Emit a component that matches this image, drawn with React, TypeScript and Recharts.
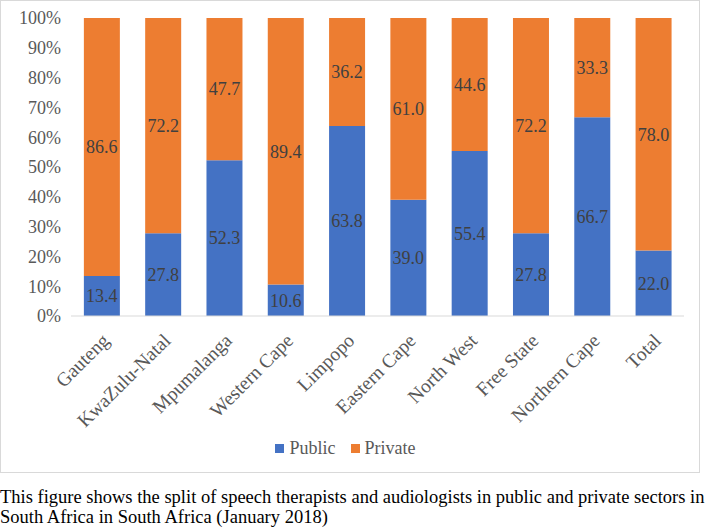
import { BarChart, Bar, XAxis, YAxis, Legend, LabelList } from "recharts";

const REGIONS = [
  "Gauteng", "KwaZulu-Natal", "Mpumalanga", "Western Cape", "Limpopo",
  "Eastern Cape", "North West", "Free State", "Northern Cape", "Total",
];
const PUBLIC = [13.4, 27.8, 52.3, 10.6, 63.8, 39.0, 55.4, 27.8, 66.7, 22.0];
const PRIVATE = [86.6, 72.2, 47.7, 89.4, 36.2, 61.0, 44.6, 72.2, 33.3, 78.0];
const Y_TICKS = [0, 10, 20, 30, 40, 50, 60, 70, 80, 90, 100];

const FONT = '"Liberation Serif", "Times New Roman", serif';
const BLUE = "#4472C4";
const ORANGE = "#ED7D31";
const LEGEND = [
  { label: "Public", color: BLUE },
  { label: "Private", color: ORANGE },
];

const chartData = REGIONS.map((name, i) => ({
  name,
  public: PUBLIC[i],
  private: PRIVATE[i],
}));

function RotatedTick({ x, y, payload }: any) {
  return (
    <g transform={`translate(${x + 4},${y + 13})`}>
      <text
        x={0}
        y={0}
        dy="0.35em"
        textAnchor="end"
        transform="rotate(-45)"
        fill="#595959"
        fontSize={19.5}
        fontFamily={FONT}
      >
        {payload.value}
      </text>
    </g>
  );
}

function PercentTick({ x, y, payload }: any) {
  return (
    <text
      x={x - 2}
      y={y}
      dy="0.35em"
      textAnchor="end"
      fill="#595959"
      fontSize={18}
      fontFamily={FONT}
    >
      {`${payload.value}%`}
    </text>
  );
}

function LegendBox() {
  return (
    <div
      style={{
        display: "flex",
        justifyContent: "center",
        gap: 15,
        fontFamily: FONT,
        fontSize: 18,
        color: "#595959",
        lineHeight: "20px",
        paddingLeft: 6,
      }}
    >
      {LEGEND.map((l) => (
        <span key={l.label} style={{ display: "flex", alignItems: "center", gap: 5 }}>
          <span style={{ width: 9, height: 9, background: l.color, display: "inline-block" }} />
          {l.label}
        </span>
      ))}
    </div>
  );
}

export default function App() {
  return (
    <div
      style={{
        position: "absolute",
        left: 0,
        top: 0,
        width: 709,
        height: 529,
        background: "#fff",
        fontFamily: FONT,
      }}
    >
      <div
        style={{
          position: "absolute",
          left: 0,
          top: 0,
          width: 698,
          height: 471,
          border: "1px solid #D9D9D9",
        }}
      >
        <BarChart
          width={698}
          height={471}
          data={chartData}
          margin={{ top: 17, right: 15, left: 0, bottom: 14 }}
          barCategoryGap="21%"
          style={{ fontFamily: FONT }}
        >
          <XAxis
            dataKey="name"
            interval={0}
            tick={<RotatedTick />}
            tickLine={false}
            axisLine={{ stroke: "#D9D9D9" }}
            height={122}
          />
          <YAxis
            domain={[0, 100]}
            ticks={Y_TICKS}
            axisLine={false}
            tickLine={false}
            width={70}
            tick={<PercentTick />}
          />
          <Legend verticalAlign="bottom" content={<LegendBox />} />
          <Bar dataKey="public" name="Public" stackId="a" fill={BLUE} isAnimationActive={false}>
            <LabelList
              dataKey="public"
              position="center"
              formatter={(v: number) => v.toFixed(1)}
              fill="#404040"
              fontSize={18}
              fontFamily={FONT}
            />
          </Bar>
          <Bar dataKey="private" name="Private" stackId="a" fill={ORANGE} isAnimationActive={false}>
            <LabelList
              dataKey="private"
              position="center"
              formatter={(v: number) => v.toFixed(1)}
              fill="#404040"
              fontSize={18}
              fontFamily={FONT}
            />
          </Bar>
        </BarChart>
      </div>
      <div
        style={{
          position: "absolute",
          left: 0,
          top: 487,
          width: 712,
          fontSize: 18.5,
          lineHeight: "20px",
          color: "#000",
          whiteSpace: "nowrap",
        }}
      >
        This figure shows the split of speech therapists and audiologists in public and private sectors in
        <br />
        South Africa in South Africa (January 2018)
      </div>
    </div>
  );
}
